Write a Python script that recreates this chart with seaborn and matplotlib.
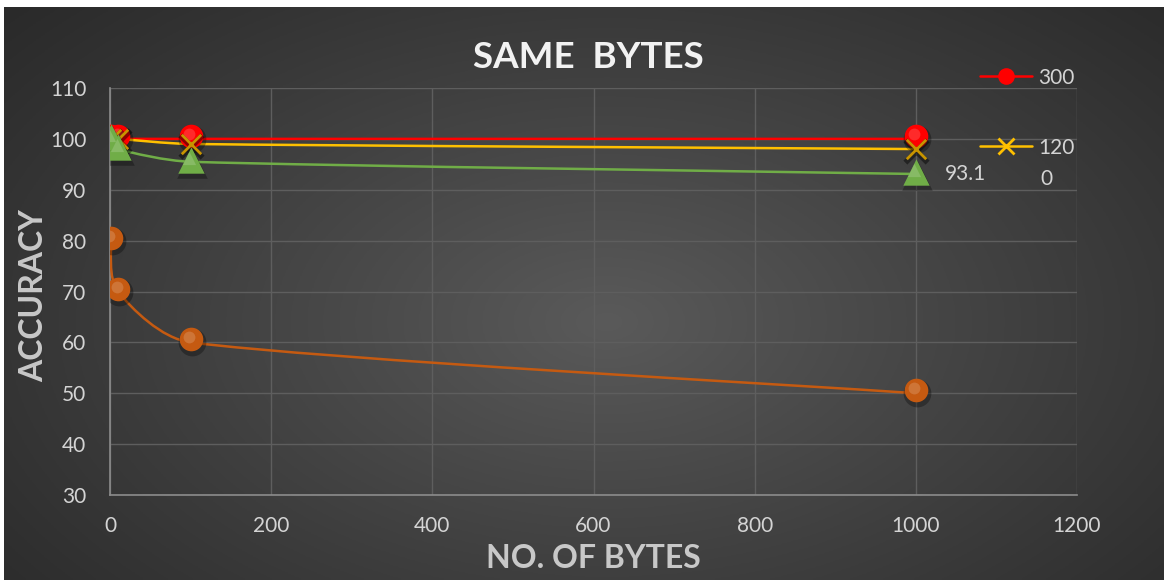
import numpy as np
import pandas as pd
import matplotlib
matplotlib.use("Agg")
import matplotlib.pyplot as plt
import seaborn as sns
from matplotlib.path import Path
from matplotlib.patches import PathPatch
from matplotlib.lines import Line2D
from matplotlib.transforms import offset_copy

# ---- data -------------------------------------------------------------
num_bytes = [1, 10, 100, 1000]
acc_300 = [100, 100, 100, 100]
acc_1200 = [100, 100, 99, 98]
acc_green = [100, 98, 95.5, 93.1]
acc_orange = [80, 70, 60, 50]

x_ticks = [0, 200, 400, 600, 800, 1000, 1200]
y_ticks = [30, 40, 50, 60, 70, 80, 90, 100, 110]

title = "SAME  BYTES"
x_label = "NO. OF BYTES"
y_label = "ACCURACY"
legend_labels = ["300", "120"]

# drawing order: first listed is drawn first (underneath)
series = [
    dict(y=acc_300, color="#ff0000", marker="o", size=17),
    dict(y=acc_1200, color="#ffc000", marker="x", size=14),
    dict(y=acc_green, color="#70ad47", marker="^", size=19),
    dict(y=acc_orange, color="#c55a11", marker="o", size=17),
]

sns.set_theme(style="dark")
plt.rcParams["font.family"] = ["Lato", "DejaVu Sans"]

W, H, DPI = 1164, 580, 100
fig = plt.figure(figsize=(W / DPI, H / DPI), dpi=DPI, facecolor="white")

# dark radial backdrop
bg = fig.add_axes([4 / W, 0, (W - 4) / W, (H - 7) / H], zorder=-5)
gx, gy = np.meshgrid(np.linspace(0, 1, 400), np.linspace(0, 1, 200))
r = np.sqrt(((gx - 0.52) / 0.75) ** 2 + ((gy - 0.45) / 0.9) ** 2)
shade = np.clip(1 - r, 0, 1) ** 1.1
lo, hi = np.array([0x27, 0x27, 0x27]) / 255, np.array([0x5a, 0x5a, 0x5a]) / 255
img = lo + (hi - lo) * shade[..., None]
bg.imshow(img, aspect="auto", extent=[0, 1, 0, 1], origin="lower")
bg.set_axis_off()

# plot area
L, R, T, B = 110, 1077, 88, 495
ax = fig.add_axes([L / W, 1 - B / H, (R - L) / W, (B - T) / H])
ax.set_facecolor("none")
ax.set_xlim(0, 1200)
ax.set_ylim(30, 110)
ax.set_xticks(x_ticks)
ax.set_yticks(y_ticks)
ax.grid(True, color="#5e5e5e", linewidth=1.0)
for s in ["top", "right"]:
    ax.spines[s].set_visible(False)
for s in ["left", "bottom"]:
    ax.spines[s].set_color("#8c8c8c")
    ax.spines[s].set_linewidth(1.2)
ax.tick_params(axis="both", colors="#d4d4d4", labelsize=15, length=0)
ax.tick_params(axis="y", pad=17)
ax.tick_params(axis="x", pad=15)


def smooth_path(xs, ys):
    """Cubic Bezier through the points; tangents are built in pixel space
    and limited to a third of the adjoining segment."""
    to_px = ax.transData
    pts = to_px.transform(np.column_stack([xs, ys]).astype(float))
    n = len(pts)

    def tangent(i):
        a = pts[max(i - 1, 0)]
        b = pts[min(i + 1, n - 1)]
        return (b - a) / 6.0

    def clamp(v, seg):
        lim = np.linalg.norm(seg) / 3.0
        nv = np.linalg.norm(v)
        return v * (lim / nv) if nv > lim else v

    verts = [pts[0]]
    codes = [Path.MOVETO]
    for i in range(n - 1):
        p1, p2 = pts[i], pts[i + 1]
        seg = p2 - p1
        c1 = p1 + clamp(tangent(i), seg)
        c2 = p2 - clamp(tangent(i + 1), seg)
        verts += [c1, c2, p2]
        codes += [Path.CURVE4] * 3
    verts = to_px.inverted().transform(np.array(verts))
    return Path(verts, codes)


def lighten(c, f):
    c = np.array(matplotlib.colors.to_rgb(c))
    return tuple(c + (1 - c) * f)


def shift_last(dx, dy):
    coll = ax.collections[-1]
    coll.set_offset_transform(offset_copy(ax.transData, fig=fig, x=dx, y=dy,
                                          units="dots"))


for k, s in enumerate(series):
    path = smooth_path(num_bytes, s["y"])
    ax.add_patch(PathPatch(path, facecolor="none", edgecolor=s["color"],
                           linewidth=1.8, zorder=3 + 0.01 * k,
                           capstyle="round"))

for k, s in enumerate(series):
    df = pd.DataFrame({"bytes": num_bytes, "acc": s["y"]})
    ms = s["size"]
    z = 4 + k
    if s["marker"] == "x":
        sns.scatterplot(data=df, x="bytes", y="acc", ax=ax, marker="x",
                        s=(ms + 2) ** 2, color="black", alpha=0.45,
                        linewidth=4.0, zorder=z, legend=False)
        shift_last(0.5, -2)
        sns.scatterplot(data=df, x="bytes", y="acc", ax=ax, marker="x",
                        s=ms ** 2, color="#c89400", linewidth=2.0,
                        zorder=z + 0.1, legend=False)
        continue
    lift = 3 if s["marker"] == "o" else 2
    # soft shadow
    sns.scatterplot(data=df, x="bytes", y="acc", ax=ax, marker=s["marker"],
                    s=(ms + 3) ** 2, color="black", alpha=0.3, linewidth=0,
                    zorder=z, legend=False)
    shift_last(1, lift - 3)
    # body
    sns.scatterplot(data=df, x="bytes", y="acc", ax=ax, marker=s["marker"],
                    s=ms ** 2, color=s["color"], linewidth=0,
                    zorder=z + 0.1, legend=False)
    shift_last(0, lift)
    # highlight
    sns.scatterplot(data=df, x="bytes", y="acc", ax=ax, marker=s["marker"],
                    s=(ms * 0.5) ** 2, color=lighten(s["color"], 0.3),
                    alpha=0.55, linewidth=0, zorder=z + 0.2, legend=False)
    shift_last(-1.5, lift + 2)
ax.set_xlabel("")
ax.set_ylabel("")

# value label on the last green point
ax.annotate(f"{acc_green[-1]}", (num_bytes[-1], acc_green[-1]),
            xytext=(21, 0), textcoords="offset points", va="center",
            ha="left", color="#d4d4d4", fontsize=15)

# titles
fig.text(588 / W, 1 - 58 / H, title, ha="center", va="center",
         color="#f2f2f2", fontsize=26.5, fontweight="bold")
fig.text(593 / W, 1 - 558 / H, x_label, ha="center", va="center",
         color="#c8c8c8", fontsize=23, fontweight="bold")
fig.text(34 / W, 1 - 296 / H, y_label, ha="center", va="center",
         rotation=90, color="#c8c8c8", fontsize=23, fontweight="bold")

# legend
handles = [
    Line2D([0], [0], color="#ff0000", lw=1.8, marker="o", markersize=12,
           markerfacecolor="#ff0000", markeredgewidth=0),
    Line2D([0], [0], color="#ffc000", lw=1.8, marker="x", markersize=12,
           markeredgewidth=2, markeredgecolor="#ffc000"),
]
leg = fig.legend(handles, legend_labels, loc="upper left",
                 bbox_to_anchor=(965 / W, 1 - 53 / H), frameon=False,
                 fontsize=15, labelcolor="#d4d4d4", handlelength=2.5,
                 handletextpad=0.3, labelspacing=2.4, borderpad=0.2)
fig.text(1040 / W, 1 - 179 / H, "0", ha="left", va="center",
         color="#d4d4d4", fontsize=15)

fig.savefig("out.png", dpi=DPI, facecolor=fig.get_facecolor())
